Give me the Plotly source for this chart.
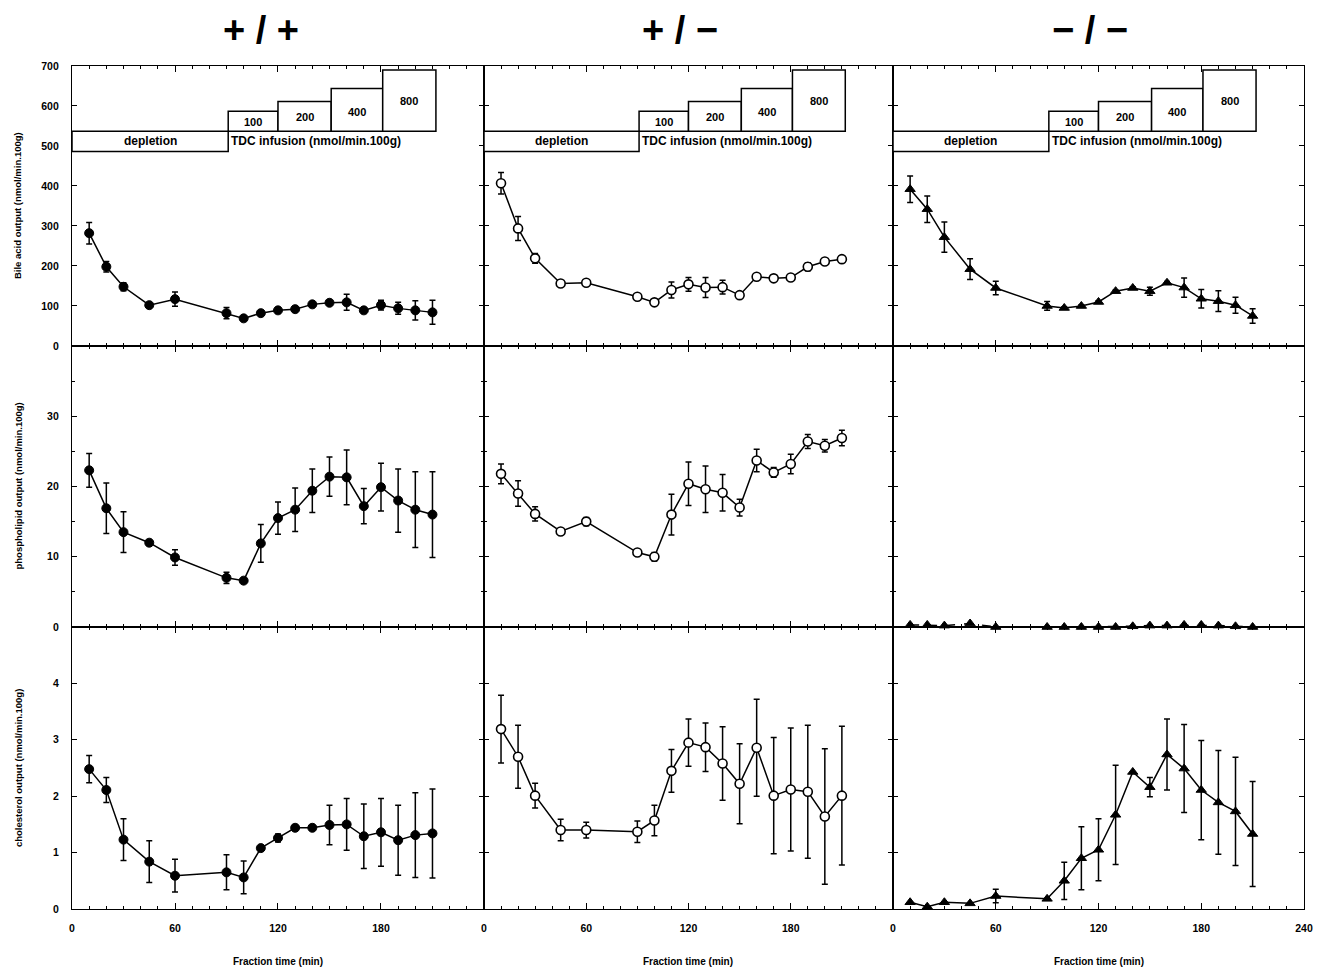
import plotly.graph_objects as go
from plotly.subplots import make_subplots

# ---------------- data ----------------
time_min = [10, 20, 30, 45, 60, 90, 100, 110, 120, 130, 140, 150, 160, 170, 180, 190, 200, 210]
genotypes = ["+ / +", "+ / \u2212", "\u2212 / \u2212"]

# Bile acid output (nmol/min.100g)
bile_wt = [282, 198, 148, 102, 117, 82, 69, 82, 89, 92, 104, 108, 109, 89, 102, 94, 89, 84]
bile_wt_err = [27, 13, 10, 3, 18, 14, 3, 4, 3, 3, 4, 4, 20, 4, 12, 15, 24, 30]
bile_het = [407, 294, 219, 156, 158, 123, 109, 140, 154, 146, 147, 127, 173, 169, 171, 198, 211, 217]
bile_het_err = [27, 30, 12, 3, 4, 3, 3, 20, 17, 25, 17, 3, 3, 3, 3, 10, 3, 3]
bile_ko = [392, 342, 272, 192, 145, 100, 95, 100, 110, 137, 145, 137, 158, 146, 118, 112, 102, 75]
bile_ko_err = [33, 33, 38, 26, 17, 11, 3, 3, 3, 3, 3, 10, 3, 24, 23, 26, 20, 18]

# Phospholipid output (nmol/min.100g)
pl_wt = [22.3, 16.9, 13.5, 12.0, 9.9, 7.0, 6.6, 11.9, 15.5, 16.7, 19.4, 21.4, 21.3, 17.2, 19.9, 18.0, 16.7, 16.0]
pl_wt_err = [2.4, 3.6, 2.9, 0.2, 1.1, 0.8, 0.2, 2.7, 2.3, 3.1, 3.1, 2.8, 3.9, 2.5, 3.4, 4.5, 5.4, 6.1]
pl_het = [21.8, 19.0, 16.1, 13.6, 15.0, 10.6, 10.0, 16.0, 20.4, 19.6, 19.1, 17.0, 23.7, 22.0, 23.2, 26.4, 25.8, 26.9]
pl_het_err = [1.4, 1.8, 1.0, 0.2, 0.6, 0.2, 0.6, 2.9, 3.1, 3.3, 2.6, 1.2, 1.6, 0.7, 1.4, 1.0, 0.9, 1.1]
pl_ko = [0.3, 0.3, 0.2, 0.5, 0.0, 0.0, 0.0, 0.0, 0.0, 0.0, 0.1, 0.2, 0.2, 0.3, 0.3, 0.2, 0.1, 0.0]

# Cholesterol output (nmol/min.100g)
ch_wt = [2.48, 2.11, 1.23, 0.84, 0.59, 0.65, 0.56, 1.08, 1.26, 1.44, 1.44, 1.49, 1.50, 1.29, 1.36, 1.22, 1.31, 1.34]
ch_wt_err = [0.24, 0.22, 0.37, 0.37, 0.29, 0.31, 0.29, 0.02, 0.07, 0.02, 0.02, 0.35, 0.46, 0.57, 0.60, 0.62, 0.75, 0.79]
ch_het = [3.19, 2.70, 2.01, 1.40, 1.40, 1.37, 1.57, 2.45, 2.95, 2.87, 2.58, 2.22, 2.86, 2.01, 2.12, 2.08, 1.64, 2.01]
ch_het_err = [0.60, 0.56, 0.22, 0.19, 0.14, 0.19, 0.27, 0.38, 0.42, 0.43, 0.65, 0.71, 0.86, 1.03, 1.09, 1.18, 1.20, 1.23]
ch_ko = [0.12, 0.04, 0.12, 0.10, 0.23, 0.18, 0.50, 0.90, 1.05, 1.67, 2.43, 2.16, 2.74, 2.49, 2.11, 1.89, 1.73, 1.33]
ch_ko_err = [0.0, 0.0, 0.0, 0.0, 0.12, 0.0, 0.33, 0.56, 0.55, 0.88, 0.0, 0.17, 0.63, 0.78, 0.88, 0.92, 0.96, 0.93]

# Protocol boxes (top row, in data units)
box_edges = [0, 91, 120, 151, 181, 212]
depletion_bottom = 486
box_tops = [537, 587, 611, 644, 690]
dose_labels = ["100", "200", "400", "800"]
dose_label_y = [559, 572, 586, 613]

row_titles = ["Bile acid output (nmol/min.100g)",
              "phospholipid output (nmol/min.100g)",
              "cholesterol output (nmol/min.100g)"]
y_ranges = [[0, 700], [0, 40], [0, 5]]
y_tickvals = [[0, 100, 200, 300, 400, 500, 600, 700], [0, 10, 20, 30], [0, 1, 2, 3, 4]]
y_minor = [None, 5, None]
x_ticklabels = [[0, 60, 120, 180], [0, 60, 120, 180], [0, 60, 120, 180, 240]]

FONT = "Liberation Sans, Arial, sans-serif"

fig = make_subplots(rows=3, cols=3, horizontal_spacing=0, vertical_spacing=0)

series = [
    [(bile_wt, bile_wt_err), (bile_het, bile_het_err), (bile_ko, bile_ko_err)],
    [(pl_wt, pl_wt_err), (pl_het, pl_het_err), (pl_ko, None)],
    [(ch_wt, ch_wt_err), (ch_het, ch_het_err), (ch_ko, ch_ko_err)],
]

marker_styles = [
    dict(symbol="circle", size=9, color="black", line=dict(color="black", width=1)),
    dict(symbol="circle", size=9, color="white", line=dict(color="black", width=1.6)),
    dict(symbol="triangle-up", size=9, color="black", line=dict(color="black", width=1)),
]

for r in range(3):
    for c in range(3):
        vals, err = series[r][c]
        tr = dict(
            x=time_min, y=vals, mode="lines+markers",
            line=dict(color="black", width=1.5, dash="dash" if (r == 1 and c == 2) else "solid"),
            marker=marker_styles[c], showlegend=False, cliponaxis=False,
        )
        if err is not None:
            tr["error_y"] = dict(type="data", array=err, color="black", thickness=1.5, width=3)
        fig.add_trace(go.Scatter(**tr), row=r + 1, col=c + 1)

# Domains (pixel-matched)
col_dom = [[0, 0.3344], [0.3344, 0.6664], [0.6664, 1.0]]
row_dom = [[0.6679, 1.0], [0.3345, 0.6679], [0.0, 0.3345]]

tickfont = dict(family=FONT, size=10.5, color="black", weight="bold")

for r in range(3):
    for c in range(3):
        idx = r * 3 + c + 1
        xa = "xaxis" if idx == 1 else f"xaxis{idx}"
        ya = "yaxis" if idx == 1 else f"yaxis{idx}"
        fig.layout[xa].update(
            domain=col_dom[c], range=[0, 240],
            tickvals=x_ticklabels[c] if r == 2 else [0, 60, 120, 180, 240],
            showticklabels=(r == 2), ticklabelstandoff=9,
            ticks="inside", ticklen=6, tickwidth=1.3, tickcolor="black",
            minor=dict(dtick=10, tick0=0, ticks="inside", ticklen=3, tickwidth=1, tickcolor="black"),
            showline=True, linecolor="black", linewidth=1.3, mirror="ticks",
            showgrid=False, zeroline=False, tickfont=tickfont, automargin=False,
        )
        ymin = dict(dtick=y_minor[r], ticks="inside", ticklen=3, tickwidth=1, tickcolor="black") if y_minor[r] else dict(ticks="")
        fig.layout[ya].update(
            domain=row_dom[r], range=y_ranges[r], tickvals=y_tickvals[r],
            showticklabels=(c == 0), ticklabelstandoff=10,
            ticks="inside", ticklen=5, tickwidth=1.3, tickcolor="black",
            minor=ymin,
            showline=True, linecolor="black", linewidth=1.3, mirror="ticks",
            showgrid=False, zeroline=False, tickfont=tickfont, automargin=False,
        )

# Protocol boxes on top row panels
for c in range(3):
    xr = "x" if c == 0 else f"x{c + 1}"
    yr = "y" if c == 0 else f"y{c + 1}"
    fig.add_shape(type="rect", xref=xr, yref=yr, x0=box_edges[0], x1=box_edges[1],
                  y0=depletion_bottom, y1=box_tops[0], line=dict(color="black", width=1.5),
                  fillcolor="white", layer="above")
    fig.add_annotation(xref=xr, yref=yr, x=(box_edges[0] + box_edges[1]) / 2,
                       y=(depletion_bottom + box_tops[0]) / 2, text="depletion", showarrow=False,
                       font=dict(family=FONT, size=12, color="black", weight="bold"))
    fig.add_annotation(xref=xr, yref=yr, x=box_edges[1] + 0.5, y=(depletion_bottom + box_tops[0]) / 2,
                       text="TDC infusion (nmol/min.100g)", showarrow=False, xanchor="left",
                       font=dict(family=FONT, size=12, color="black", weight="bold"))
    for k in range(4):
        fig.add_shape(type="rect", xref=xr, yref=yr, x0=box_edges[k + 1], x1=box_edges[k + 2],
                      y0=box_tops[0], y1=box_tops[k + 1], line=dict(color="black", width=1.5),
                      fillcolor="white", layer="above")
        fig.add_annotation(xref=xr, yref=yr, x=(box_edges[k + 1] + box_edges[k + 2]) / 2,
                           y=dose_label_y[k], text=dose_labels[k], showarrow=False,
                           font=dict(family=FONT, size=11, color="black", weight="bold"))

# Genotype headers
header_x = [0.1534, 0.4935, 0.8263]
for c in range(3):
    fig.add_annotation(xref="paper", yref="paper", x=header_x[c], y=1.0427, text=genotypes[c],
                       xanchor="center", yanchor="middle",
                       showarrow=False, font=dict(family=FONT, size=38, color="black", weight="bold"))

# Y titles
row_centers = [(d[0] + d[1]) / 2 for d in row_dom]
for r in range(3):
    fig.add_annotation(xref="paper", yref="paper", x=-0.0438, y=row_centers[r], text=row_titles[r],
                       textangle=-90, showarrow=False, xanchor="center", yanchor="middle",
                       font=dict(family=FONT, size=9.5, color="black", weight="bold"))

# X titles
for c in range(3):
    fig.add_annotation(xref="paper", yref="paper", x=(col_dom[c][0] + col_dom[c][1]) / 2, y=-0.0617,
                       text="Fraction time (min)", showarrow=False, xanchor="center", yanchor="middle",
                       font=dict(family=FONT, size=10, color="black", weight="bold"))

fig.update_layout(
    width=1318, height=969,
    margin=dict(l=72, r=14, t=66, b=60, autoexpand=False),
    paper_bgcolor="white", plot_bgcolor="white",
    showlegend=False,
)

fig.write_html(
    "out.html",
    config={"displayModeBar": False},
    post_script="document.body.style.margin='0';document.body.style.overflow='hidden';",
)
